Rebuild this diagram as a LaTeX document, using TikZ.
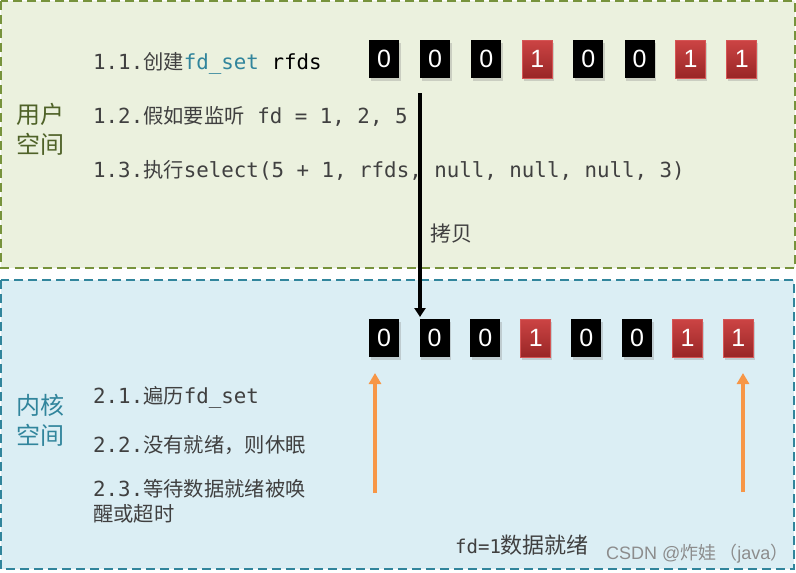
\documentclass[tikz,border=0pt]{standalone}
\usepackage{fontspec}
\setmainfont{Noto Sans CJK SC}
\newfontfamily\cjk{Noto Sans CJK SC}
\newfontfamily\monof{DejaVu Sans Mono}
\newfontfamily\digitf{Liberation Sans}
\usetikzlibrary{shadows,arrows.meta}
\definecolor{usrfill}{HTML}{EBF1DE}
\definecolor{usrline}{HTML}{77933C}
\definecolor{usrtext}{HTML}{4F6228}
\definecolor{kfill}{HTML}{DBEEF4}
\definecolor{kline}{HTML}{31859C}
\definecolor{txt}{HTML}{404040}
\definecolor{orangearr}{HTML}{F79646}
\definecolor{redtop}{HTML}{CC4444}
\definecolor{redbot}{HTML}{992626}
\definecolor{redline}{HTML}{D55555}
\newcommand\cn[1]{{\cjk\fontsize{20.3}{24}\selectfont #1}}
\tikzset{
  region/.style={line width=2pt, dash pattern=on 9pt off 5pt},
  steptext/.style={anchor=base west, inner sep=0pt, text=txt, font=\monof\fontsize{20.8}{24}\selectfont},
  spacelabel/.style={anchor=north west, inner sep=0pt, align=left, font=\cjk\fontsize{24}{30}\selectfont},
  bitbox/.style={minimum width=30pt, minimum height=38pt, inner sep=0pt, text=white,
    font=\digitf\fontsize{25}{25}\selectfont,
    drop shadow={shadow xshift=1.5pt, shadow yshift=-3pt, opacity=0.3}},
  zerobit/.style={bitbox, fill=black},
  onebit/.style={bitbox, top color=redtop, bottom color=redbot, draw=redline, line width=1pt},
}
\begin{document}
\begin{tikzpicture}[x=1pt,y=-1pt]
\useasboundingbox (0,0) rectangle (796,573);
% regions
\draw[region, draw=usrline, fill=usrfill] (1,1) rectangle (795,267.5);
\draw[region, draw=kline, fill=kfill] (1,280) rectangle (794,569);
% labels
\node[spacelabel, text=usrtext] (ulabel) at (16,103) {用户\\空间};
\node[spacelabel, text=kline] (klabel) at (16,394) {内核\\空间};
% user steps
\node[steptext] (s11) at (93,69) {1.1.\cn{创建}\textcolor{kline}{fd\_set} {\color{black}rfds}};
\node[steptext] (s12) at (93,123) {1.2.\cn{假如要监听} fd = 1, 2, 5};
\node[steptext] (s13) at (93,177) {1.3.\cn{执行}select(5 + 1, rfds, null, null, null, 3)};
% kernel steps
\node[steptext] (s21) at (93,403) {2.1.\cn{遍历}fd\_set};
\node[steptext] (s22) at (93,452) {2.2.\cn{没有就绪，则休眠}};
\node[steptext] (s23) at (93,496) {2.3.\cn{等待数据就绪被唤}};
\node[steptext] (s23b) at (93,521) {\cn{醒或超时}};
% top bits
\foreach \b [count=\i from 0] in {0,0,0,1,0,0,1,1}{
  \ifnum\b=0
    \node[zerobit] (t\i) at (384+51.1*\i,59) {0};
  \else
    \node[onebit] (t\i) at (384+51.1*\i,59) {1};
  \fi
}
% bottom bits
\foreach \b [count=\i from 0] in {0,0,0,1,0,0,1,1}{
  \ifnum\b=0
    \node[zerobit] (k\i) at (384+50.6*\i,338) {0};
  \else
    \node[onebit] (k\i) at (384+50.6*\i,338) {1};
  \fi
}
% copy arrow
\coordinate (cpA) at (420,93);
\coordinate (cpB) at (420,317);
\draw[line width=3.5pt, -{Triangle[length=9pt,width=11pt]}] (cpA) -- (cpB);
\node[anchor=base west, inner sep=0pt, text=txt, font=\cjk\fontsize{21}{24}\selectfont] (copy) at (430,241) {拷贝};
% orange arrows
\coordinate (oA1) at (375,493);
\coordinate (oB1) at (375,373);
\coordinate (oA2) at (743,492);
\coordinate (oB2) at (743,373);
\draw[orangearr, line width=3.5pt, -{Triangle[length=11pt,width=12pt]}] (oA1) -- (oB1);
\draw[orangearr, line width=3.5pt, -{Triangle[length=11pt,width=12pt]}] (oA2) -- (oB2);
% bottom note
\node[anchor=base west, inner sep=0pt, text=txt, font=\monof\fontsize{19}{22}\selectfont] (note) at (455,553) {fd=1{\cjk\fontsize{22}{24}\selectfont 数据就绪}};
\node[anchor=base west, inner sep=0pt, text=black!45, font=\digitf\fontsize{18}{20}\selectfont] (wm) at (606,559) {CSDN @{\cjk 炸娃\hspace{3pt}（}java{\cjk ）}};
\end{tikzpicture}
\end{document}
